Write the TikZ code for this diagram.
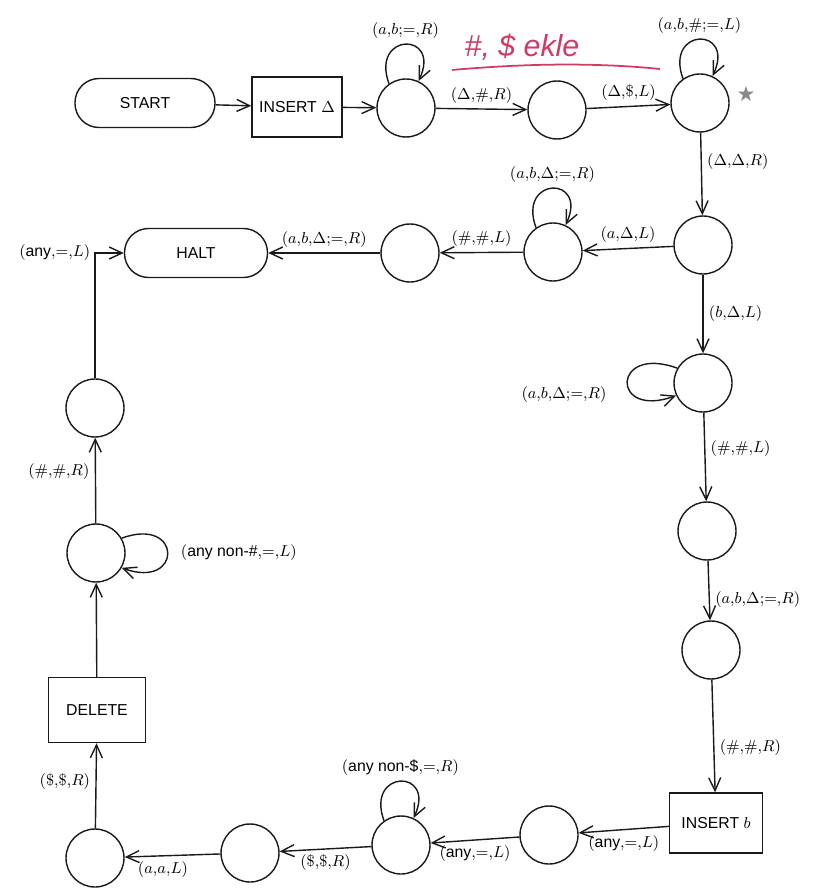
\documentclass[tikz,border=0pt]{standalone}
\usepackage{fontspec}
\setsansfont{Liberation Sans}
\newfontfamily\symfont{DejaVu Sans}
\usepackage{tikz}
\usetikzlibrary{arrows.meta,calc}
\definecolor{ink}{HTML}{1A1A1A}
\definecolor{pen}{HTML}{D23A64}
\definecolor{starcol}{HTML}{8A8A8A}
\newcommand{\act}[1]{$\mathcode`\,="002C \mathcode`\;="003B (#1)$}
\newcommand{\anyw}[1]{\mbox{\sffamily #1}}

\begin{document}
\begin{tikzpicture}[x=0.02cm, y=-0.02cm, line width=0.8pt, draw=ink,
    state/.style={circle, draw, minimum size=1.16cm, inner sep=0pt},
    term/.style={draw, rounded corners=0.48cm, minimum height=0.98cm, inner sep=0pt,
                 font=\sffamily\small},
    opbox/.style={draw, minimum height=1.2cm, inner sep=4pt, font=\sffamily\small},
    trans/.style={-{Straight Barb[length=2.6mm, width=2.4mm]}},
    lbl/.style={font=\small, inner sep=3pt}]
  \useasboundingbox (0,0) rectangle (812,891);

  % top row
  \node[term, minimum width=2.8cm] (start) at (145,103) {START};
  \node[opbox, minimum width=1.8cm] (insd) at (297,107) {INSERT $\Delta$};
  \node[state] (q1) at (406,108) {};
  \node[state] (q2) at (557,110) {};
  \node[state] (q3) at (700,103) {};
  \node[text=starcol, font=\symfont\large] (star) at (746,94) {★};

  % handwritten note
  \node[text=pen, font=\sffamily\itshape\LARGE] (note) at (522,47) {\#, \$ ekle};
  \draw[pen, line width=1pt] (452,70) .. controls (520,64) and (590,62) .. (660,69);

  % middle row
  \node[state] (q4) at (703,245) {};
  \node[state] (q12) at (553,252) {};
  \node[state] (q13) at (410,253) {};
  \node[term, minimum width=2.86cm] (halt) at (196,253) {HALT};

  % right column
  \node[state] (q5) at (703,383) {};
  \node[state] (q6) at (707,531) {};
  \node[state] (q7) at (711,650) {};
  \node[opbox, minimum width=1.85cm] (insb) at (716,823) {INSERT $b$};

  % bottom row
  \node[state] (q8) at (549,835) {};
  \node[state] (q9) at (401,845) {};
  \node[state] (q10) at (250,853) {};
  \node[state] (q11) at (95,858) {};

  % left column
  \node[opbox, minimum width=1.95cm, minimum height=1.3cm] (del) at (97,710) {DELETE};
  \node[state] (q14) at (96,553) {};
  \node[state] (q15) at (95,408) {};

  % transitions
  \draw[trans] (start) -- (insd);
  \draw[trans] (insd) -- (q1);
  \draw[trans] (q1) -- node[lbl, above] {\act{\Delta,\#,R}} (q2);
  \draw[trans] (q2) -- node[lbl, above] {\act{\Delta,\$,L}} (q3);
  \draw[trans] (q3) -- node[lbl, right, pos=0.35] {\act{\Delta,\Delta,R}} (q4);
  \draw[trans] (q4) -- node[lbl, above] {\act{a,\Delta,L}} (q12);
  \draw[trans] (q12) -- node[lbl, above] {\act{\#,\#,L}} (q13);
  \draw[trans] (q13) -- node[lbl, above] {\act{a,b,\Delta;{=},R}} (halt);
  \draw[trans] (q4) -- node[lbl, right] {\act{b,\Delta,L}} (q5);
  \draw[trans] (q5) -- node[lbl, right, pos=0.4] {\act{\#,\#,L}} (q6);
  \draw[trans] (q6) -- node[lbl, right, pos=0.65] {\act{a,b,\Delta;{=},R}} (q7);
  \draw[trans] (q7) -- node[lbl, right, pos=0.6] {\act{\#,\#,R}} (insb);
  \draw[trans] (insb) -- node[lbl, below] {\act{\anyw{any},{=},L}} (q8);
  \draw[trans] (q8) -- node[lbl, below] {\act{\anyw{any},{=},L}} (q9);
  \draw[trans] (q9) -- node[lbl, below] {\act{\$,\$,R}} (q10);
  \draw[trans] (q10) -- node[lbl, below, pos=0.6] {\act{a,a,L}} (q11);
  \draw[trans] (q11) -- node[lbl, left, pos=0.55] {\act{\$,\$,R}} (del);
  \draw[trans] (del) -- (q14);
  \draw[trans] (q14) -- node[lbl, left, pos=0.6] {\act{\#,\#,R}} (q15);
  \draw[trans] (q15) |- node[lbl, left, pos=0.52] {\act{\anyw{any},{=},L}} (halt);

  % loops
  \draw[trans] (q1.125) to[out=110, in=65, distance=1.1cm]
    node[lbl, above] {\act{a,b;{=},R}} (q1.65);
  \draw[trans] (q3.125) to[out=110, in=65, distance=1.1cm]
    node[lbl, above] {\act{a,b,\#;{=},L}} (q3.65);
  \draw[trans] (q12.125) to[out=110, in=65, distance=1.1cm]
    node[lbl, above] {\act{a,b,\Delta;{=},R}} (q12.65);
  \draw[trans] (q9.125) to[out=110, in=65, distance=1.1cm]
    node[lbl, above] {\act{\anyw{any non-\$},{=},R}} (q9.65);
  \draw[trans] (q5.150) to[out=160, in=200, distance=1.4cm]
    node[lbl, left, xshift=-0.3cm, yshift=-0.25cm] {\act{a,b,\Delta;{=},R}} (q5.205);
  \draw[trans] (q14.30) to[out=20, in=-20, distance=1.3cm]
    node[lbl, right, xshift=0.15cm] {\act{\anyw{any non-\#},{=},L}} (q14.-30);
\end{tikzpicture}
\end{document}
